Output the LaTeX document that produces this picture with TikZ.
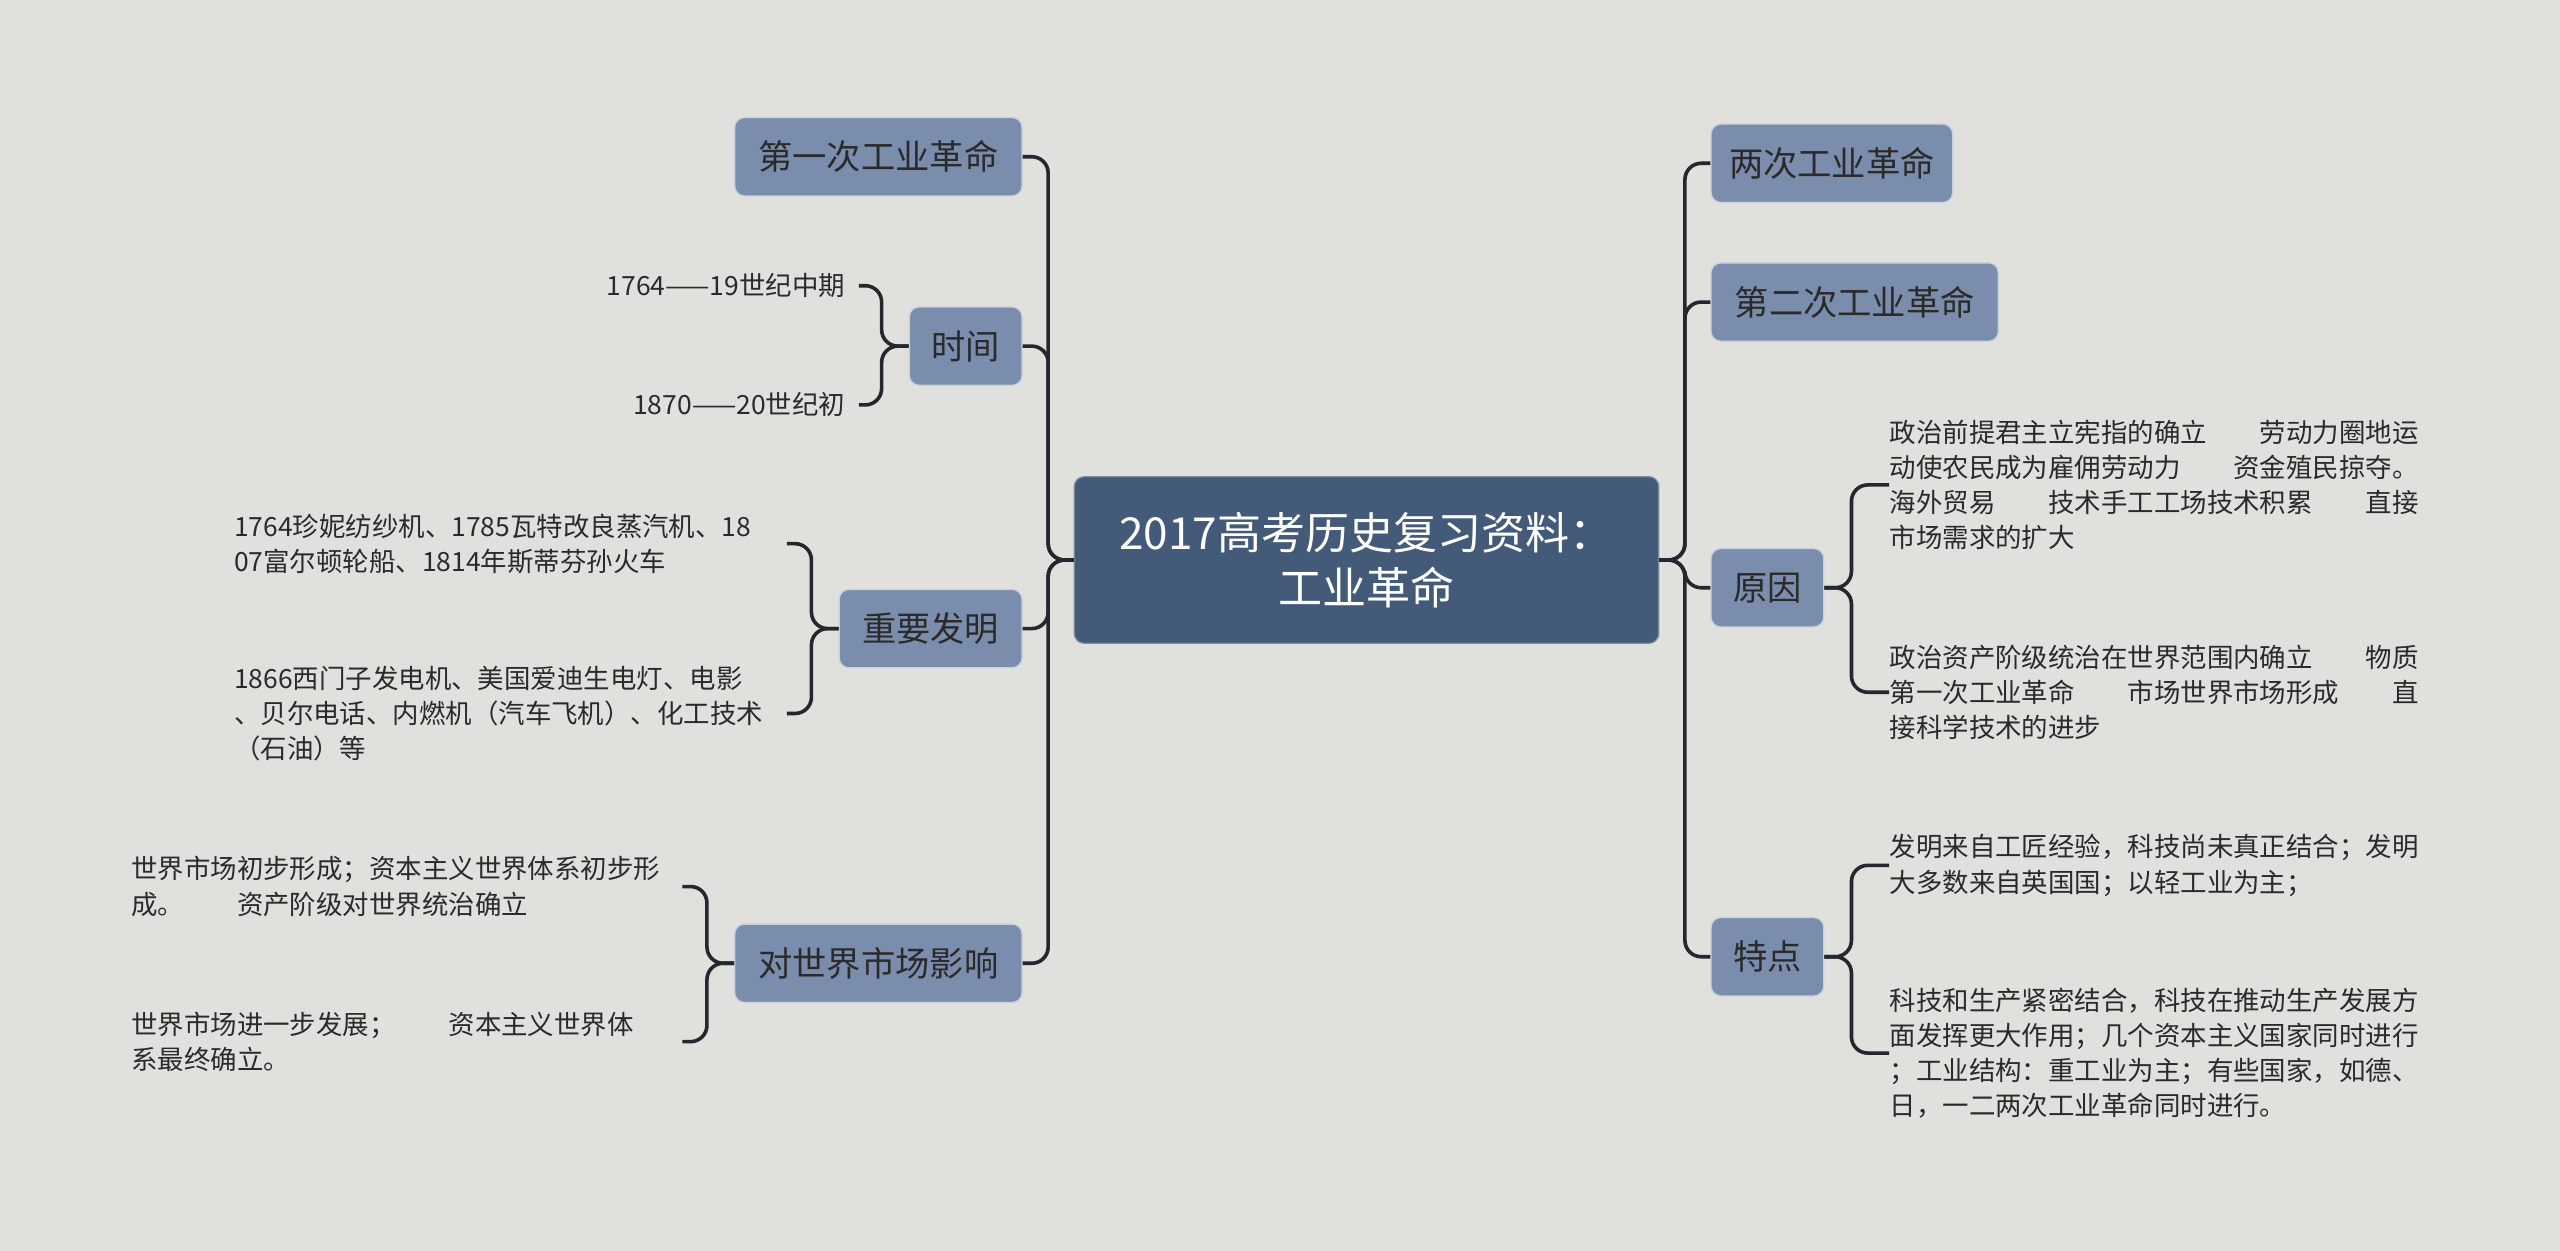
\documentclass[tikz,border=0pt]{standalone}
\usepackage{fontspec}
\setmainfont{Noto Sans CJK SC}
\begin{document}
\begin{tikzpicture}[x=0.5pt,y=-0.5pt,
 box/.style={draw=white!60!nodec,fill=nodec,rounded corners=3pt,inner sep=0pt,font=\fontsize{10.5}{12}\selectfont,text=txt},
 leaf/.style={font=\fontsize{8.1}{10.8}\selectfont,text=txt,align=left,inner sep=0pt},
 con/.style={draw=linec,line width=1.1pt,rounded corners=5pt}]
\definecolor{bg}{HTML}{E0E1DC}
\definecolor{nodec}{HTML}{7A8DAC}
\definecolor{centc}{HTML}{435A78}
\definecolor{linec}{HTML}{23272E}
\definecolor{txt}{HTML}{2A2A2A}
\fill[bg] (0,0) rectangle (1568,766);
\useasboundingbox (0,0) rectangle (1568,766);
\node[fill=centc,draw=centc!70!white,rounded corners=3pt,minimum width=179pt,minimum height=51pt,text=white,align=center,font=\fontsize{13.5}{17}\selectfont] (c) at (837,343) {2017高考历史复习资料：\\工业革命};
% left
\node[box,minimum width=88pt,minimum height=24pt] (l1) at (538,96) {第一次工业革命};
\node[box,minimum width=34.5pt,minimum height=24pt] (l2) at (591.5,212) {时间};
\node[box,minimum width=56pt,minimum height=24pt] (l3) at (570,385) {重要发明};
\node[box,minimum width=88pt,minimum height=24pt] (l4) at (538,590) {对世界市场影响};
% right
\node[box,minimum width=74pt,minimum height=24pt] (r1) at (1122,100) {两次工业革命};
\node[box,minimum width=88pt,minimum height=24pt] (r2) at (1136,185) {第二次工业革命};
\node[box,minimum width=34.5pt,minimum height=24pt] (r3) at (1082.5,360) {原因};
\node[box,minimum width=34.5pt,minimum height=24pt] (r4) at (1082.5,586) {特点};
\coordinate (cl) at (c.west);\coordinate (cr) at (c.east);
\foreach \n in {l1,l2,l3,l4} \draw[con] (cl) -- (642,343) |- (\n.east);
\foreach \n in {r1,r2,r3,r4} \draw[con] (cr) -- (1032,343) |- (\n.west);
% leaves
\node[leaf,anchor=east] (t1) at (518,175) {1764——19世纪中期};
\node[leaf,anchor=east] (t2) at (518,248) {1870——20世纪初};
\foreach \n in {t1,t2} \draw[con] (l2.west) -- (540,212) |- ([xshift=4pt]\n.east);
\node[leaf,anchor=west] (i1) at (143,333) {1764珍妮纺纱机、1785瓦特改良蒸汽机、18\\07富尔顿轮船、1814年斯蒂芬孙火车};
\node[leaf,anchor=west] (i2) at (143,437) {1866西门子发电机、美国爱迪生电灯、电影\\、贝尔电话、内燃机（汽车飞机）、化工技术\\（石油）等};
\coordinate (i1e) at (482,333);\coordinate (i2e) at (482,437);
\foreach \n in {i1e,i2e} \draw[con] (l3.west) -- (497,385) |- (\n);
\node[leaf,anchor=west] (m1) at (80,543) {世界市场初步形成；资本主义世界体系初步形\\成。\quad\quad 资产阶级对世界统治确立};
\node[leaf,anchor=west] (m2) at (80,638) {世界市场进一步发展；\quad\quad 资本主义世界体\\系最终确立。};
\coordinate (m1e) at (418,543);\coordinate (m2e) at (418,638);
\foreach \n in {m1e,m2e} \draw[con] (l4.west) -- (433,590) |- (\n);
\node[leaf,anchor=west] (y1) at (1157,297) {政治前提君主立宪指的确立\quad\quad 劳动力圈地运\\动使农民成为雇佣劳动力\quad\quad 资金殖民掠夺。\\海外贸易\quad\quad 技术手工工场技术积累\quad\quad 直接\\市场需求的扩大};
\node[leaf,anchor=west] (y2) at (1157,424) {政治资产阶级统治在世界范围内确立\quad\quad 物质\\第一次工业革命\quad\quad 市场世界市场形成\quad\quad 直\\接科学技术的进步};
\foreach \n in {y1,y2} \draw[con] (r3.east) -- (1134,360) |- (\n.west);
\node[leaf,anchor=west] (f1) at (1157,530) {发明来自工匠经验，科技尚未真正结合；发明\\大多数来自英国国；以轻工业为主；};
\node[leaf,anchor=west] (f2) at (1157,645) {科技和生产紧密结合，科技在推动生产发展方\\面发挥更大作用；几个资本主义国家同时进行\\；工业结构：重工业为主；有些国家，如德、\\日，一二两次工业革命同时进行。};
\foreach \n in {f1,f2} \draw[con] (r4.east) -- (1134,586) |- (\n.west);
\end{tikzpicture}
\end{document}
